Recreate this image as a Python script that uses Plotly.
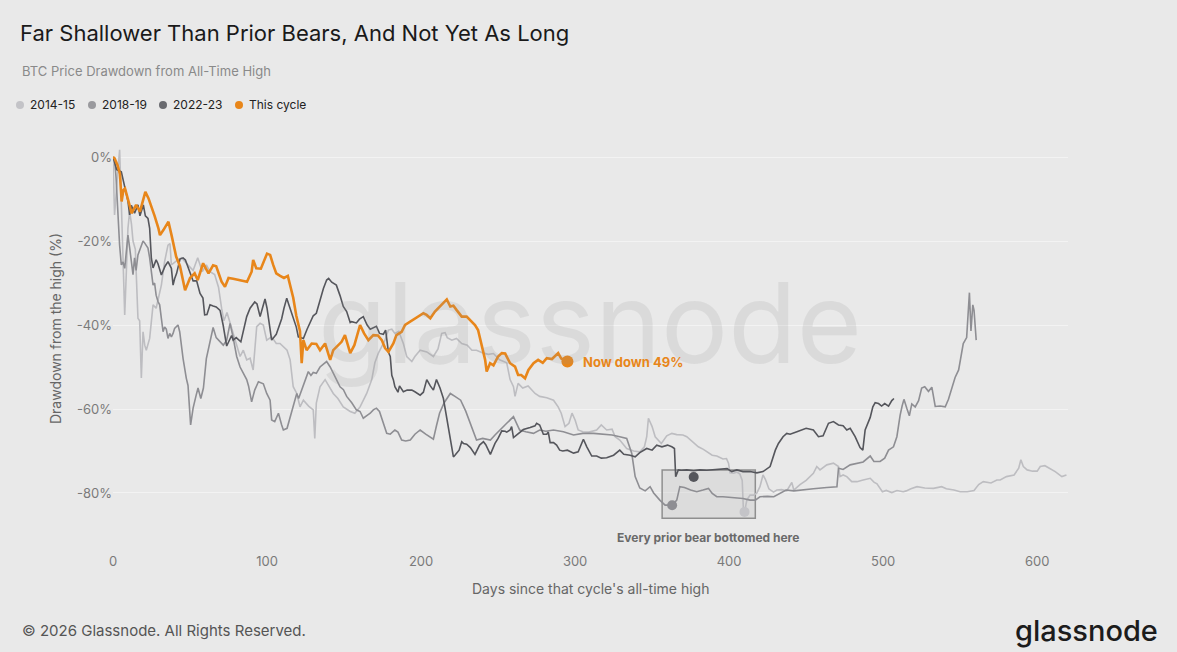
import plotly.graph_objects as go

# ---- data (days since ATH, drawdown %) ----
days_1415 = [0, 1, 3, 4.3, 5.5, 6.5, 7.6, 8.6, 9.7, 10.8, 12, 13, 14.5, 16.2, 17.3, 18.4, 19.5, 20.6,
             21.6, 23.8, 26, 28, 31.4, 33.5, 35.7, 37, 37.9, 41, 44.4, 48.7, 52, 55, 58, 60.6, 63, 66,
             68.5, 70.5, 72, 74, 76, 80.3, 82.5, 84.6, 86.8, 89, 91, 93.3, 95.5, 97.6, 99.8, 103, 106,
             108.4, 110.6, 113, 115, 117, 119.3, 121.4, 123.6, 127, 130, 131, 132, 134.4, 137.7, 140,
             143, 146, 149.5, 154, 157, 160.4, 164.7, 168, 170, 172.3, 174.5, 176.6, 178.8, 181, 183,
             185.5, 188.5, 190.7, 194, 196, 199.4, 203.7, 208, 211, 213.4, 215.6, 217, 220, 223, 226.4,
             230, 233, 236, 240.5, 243.7, 247, 251, 255.6, 257.8, 260, 261, 263, 266, 269.5, 274, 277,
             281.6, 286, 289, 291, 293.5, 296, 298, 300, 302, 305, 309, 314, 317, 320.5, 324, 326, 329,
             333.5, 338, 342, 345, 346.5, 347.6, 350, 352, 354, 356, 359.5, 362.8, 366, 370, 372.5,
             374.6, 378, 380, 383.3, 386.6, 389, 392, 396, 398.3, 399.6, 400.6, 403, 405, 407, 408.5,
             409.3, 410, 411.5, 413.6, 416, 418, 420, 422, 423.6, 425.8, 428.8, 431, 434, 437.4, 440.7,
             442, 446, 450, 454.7, 456.9, 459, 463.4, 467.7, 471, 472, 474, 476.4, 479.6, 483, 487,
             491.6, 494, 496, 499.5, 502, 505.6, 509, 513, 515, 518, 522, 527, 532.7, 538, 541, 546,
             550, 554.6, 559, 562, 565, 570, 573.8, 576, 580, 585, 588, 589.4, 591, 593.5, 597, 600,
             602, 605, 608, 611.7, 616, 619]
dd_1415 = [0, -13.8, -4, 1.7, -12, -25, -37.6, -28, -17, -13, -16, -20, -22, -38.4, -39, -52.6, -41.6,
           -44.8, -46, -43.2, -35.2, -36, -30.5, -24.9, -21, -20.6, -25.7, -24.8, -24, -25.7, -27, -24,
           -27.3, -25.7, -27.3, -28, -31, -36, -39, -37, -39.6, -45.2, -47.5, -46, -48.3, -47.9, -50.7,
           -40.4, -39.6, -40, -43.6, -42.8, -44.4, -44.4, -45.2, -46, -48.3, -54.7, -56.3, -59.5, -57.9,
           -59.3, -60.2, -67, -58.6, -54.7, -53, -54.5, -56.3, -57.5, -59.5, -60.6, -61, -59.5, -56.3,
           -53, -49, -46.7, -45.2, -43.6, -41.2, -41, -42, -41.5, -44.4, -47.5, -48.7, -47.5, -46, -46.4,
           -47.5, -45.7, -42, -41.8, -43, -43.6, -43.2, -44.4, -44.8, -46, -46, -46.7, -47, -46.8, -48.3,
           -49, -53, -54.7, -57, -53.9, -55, -54.5, -56.3, -57, -57.3, -57.9, -59.5, -61, -64.2, -63.4,
           -61, -62.6, -65, -65.4, -65.5, -65, -63.8, -65, -64.8, -66.6, -67.4, -69.4, -70, -70.2, -69,
           -66.6, -62.2, -64.2, -66.6, -67.4, -68.2, -66.4, -65.8, -66.1, -66.2, -66.6, -67.3, -68.2,
           -69, -69.6, -70.4, -71, -71.2, -71.9, -71.8, -72.9, -75.2, -75.3, -75, -75.5, -77, -84.3,
           -84.5, -81.7, -80.5, -80.5, -80, -78.5, -75.7, -76.8, -79, -79.8, -79.3, -79.2, -79.5, -77.5,
           -79.3, -78, -77, -75.3, -73.7, -74.5, -73.3, -72.9, -73.7, -76.1, -75.7, -76.1, -77.3, -77.3,
           -76.9, -76.5, -77.4, -77.8, -79.7, -79.4, -79.9, -79.4, -79.7, -79.5, -79, -78.5, -78.8,
           -78.9, -78.5, -79, -79.3, -79.7, -79.7, -79.4, -78, -77.3, -77.6, -76.9, -76.9, -76.1, -75.7,
           -74.1, -72.1, -73.7, -74.5, -74.8, -74.8, -73.7, -73.5, -74.1, -74.9, -76.1, -75.7]

days_1819 = [0, 1, 2, 3.2, 4.3, 5.4, 6.5, 7.6, 8.6, 9.7, 10.8, 11.9, 13, 14, 15, 16.2, 18.4, 19.5, 20.6,
             22.7, 23.8, 24.9, 26, 27, 28, 29.2, 30.3, 31.4, 32.5, 33.5, 34.6, 35.7, 36.8, 37.9, 39, 40,
             42.2, 43.3, 45.5, 47.6, 48.7, 50.4, 52, 54, 55.2, 57, 58.7, 60.6, 62.8, 65, 67, 69.5, 71.6,
             73.8, 76, 78, 80.3, 82.5, 84.6, 86.8, 88, 90, 92, 94.4, 97.6, 99.8, 102, 103, 105, 107.4,
             109.5, 110.6, 113, 115, 117, 119.3, 120.5, 122.5, 124.7, 126.8, 128.5, 130, 132, 134.4,
             136.6, 138.7, 141, 143, 145, 147.4, 149.6, 151.7, 155, 158, 160.4, 162.5, 165, 167, 169,
             171, 173, 175.5, 177.7, 180, 183, 185, 187.4, 190, 193, 196, 199.4, 203, 208, 210, 212,
             215, 219, 222, 225.7, 229, 232, 236, 240, 245, 248, 251, 255.6, 260, 262, 264, 268, 273,
             277, 281, 286, 292.4, 299, 305, 312, 318, 324, 329, 333.5, 336.8, 339, 342, 345.5, 348.7,
             351, 355, 358.4, 363, 366, 368, 371, 375, 379, 383, 386.6, 389, 392, 396, 400, 405, 409,
             413.6, 417, 420, 425, 429, 433, 437, 442, 446, 454.7, 463.4, 470, 471, 474, 478.6, 483, 487,
             491.6, 494, 498, 501, 503.5, 506.7, 508.9, 510, 511, 512.3, 513.5, 515.5, 517, 518.6, 520.8,
             523, 525, 527, 529.4, 531.6, 533.8, 537, 540.3, 542.4, 544.6, 546.7, 549, 551, 552, 554.2,
             555.4, 556, 557, 558.2, 559, 560.4]
dd_1819 = [0, -0.3, -5, -15.4, -21, -25.7, -25, -26.5, -23, -18.6, -21.6, -25.7, -28, -24, -27, -23.3,
           -21, -20, -20.5, -21.7, -24, -27.3, -30.5, -30, -32.9, -34.4, -35.2, -38.4, -41.6, -40.5, -41,
           -43.2, -42, -42.8, -42, -40.8, -40, -41.6, -48, -52.7, -54.4, -63.8, -59.8, -56.7, -55, -57.5,
           -55, -48, -44, -40.6, -43, -44, -44.8, -43.6, -39.6, -43, -47.5, -50, -51.5, -53, -54.5, -58.3,
           -55.5, -53.5, -54, -56.3, -57.9, -62.6, -63, -61, -63.8, -65, -64.6, -61.8, -59, -56.3, -57.5,
           -55.5, -53, -51.1, -52, -51.3, -51.5, -50, -49.3, -48.7, -50, -51.5, -53, -54.7, -55.4, -57,
           -58.5, -60.2, -60.6, -62.2, -61.5, -61, -60.2, -59.8, -60.6, -63.4, -65.8, -66, -65, -65.5,
           -67.4, -67.6, -67.4, -66, -65, -66, -67.2, -64, -61, -58.5, -56.3, -57, -57.9, -60.5, -63.4,
           -67.4, -67, -67.4, -66.2, -65, -63.4, -61.8, -63.5, -65, -65.4, -65.8, -65, -65.3, -65, -65.4,
           -66.2, -65.8, -65.8, -66, -66.2, -66.6, -67, -70.6, -76.1, -78.8, -79.5, -78.5, -80, -81.7,
           -82.9, -82.9, -81.7, -78.5, -78.7, -79.3, -79.7, -79.3, -78.9, -80.1, -80.9, -80.9, -81,
           -81.3, -81.3, -81.7, -81.7, -80.9, -80.8, -80.9, -80.1, -79.3, -79.5, -79.3, -79, -78.7, -78.5,
           -74.1, -74.4, -73.3, -73, -72.6, -71.2, -72.5, -72.5, -71.7, -69.8, -69, -66.6, -63.6, -61.5,
           -59.3, -57.7, -60, -61.6, -58.8, -59.5, -58, -55, -54.7, -55.8, -54.8, -59.4, -59.3, -59.5,
           -57.7, -54.7, -52.5, -50.7, -46.5, -44.4, -43, -35.6, -32.3, -41.4, -35.2, -36.5, -43.6]

days_2223 = [0, 1, 2.4, 5.4, 6.7, 8.7, 9.7, 10.8, 11.9, 14, 16.2, 17.5, 18.4, 19.7, 21, 22.7, 23.8, 24.9,
             26, 28, 29.2, 31.4, 33.8, 35.7, 37.9, 39, 40, 41.3, 43.5, 45.5, 47, 49, 52, 54.3, 56.5, 58.4,
             59.5, 61, 63, 65, 67, 69.5, 71.5, 73.8, 75, 77, 78, 80, 83, 85, 86.8, 89, 92, 93.5, 95.5, 97,
             98.7, 100, 102, 103, 106, 108, 109.5, 111, 112.8, 114, 115, 117, 119, 120.3, 122, 123.6, 126,
             128, 130, 132, 134.4, 136.6, 138.7, 140, 142, 144, 145, 147.4, 149.5, 151.7, 154, 155, 158,
             160, 162.5, 165, 167, 171, 173, 175.5, 177, 178.8, 180, 181, 182, 183, 185, 186, 188.5, 191,
             194, 196, 199.4, 201.5, 203.7, 206, 208, 210, 212.3, 214.5, 216.7, 217.7, 219, 220, 221, 222,
             224.7, 226.4, 227.5, 229.6, 232, 235, 238, 240.5, 242, 245, 248, 250, 252.4, 254.6, 255.6,
             257.8, 258.8, 260, 263, 266.4, 270.8, 274, 275, 277, 279.4, 281.6, 282.6, 283.8, 286, 288,
             290, 292, 295, 299, 302, 305.4, 307.6, 310.8, 314, 317, 320.5, 325, 329, 331.6, 335.7, 339,
             342, 346.5, 350, 353, 356.4, 360, 362.8, 364.5, 365.3, 367, 369, 372.5, 377, 381, 385.5, 390,
             394, 398.7, 401.7, 405, 409, 413.6, 418, 422, 426.6, 430, 432, 435, 437.4, 439.6, 444, 447,
             450, 454.7, 458, 461, 464.5, 467.7, 471, 474, 476.4, 478.6, 481.8, 485, 486.8, 488.3, 489.8,
             491.6, 493.3, 494.8, 497, 499, 501, 503.5, 505.6, 507]
dd_2223 = [0, -1.5, -3, -3.5, -5.5, -9, -10.5, -13.8, -11.5, -13.4, -11.4, -14, -12.7, -11.4, -14, -14.6,
           -17, -24.1, -26.4, -24.5, -25.4, -28.1, -26, -24.9, -26.5, -30.5, -29, -27.7, -24.3, -24, -24.5,
           -26.5, -29.5, -29.5, -32.5, -33.6, -37.6, -37.5, -35.2, -35.5, -35.7, -36.5, -40, -45, -44,
           -42.5, -43.6, -43, -44, -41, -38, -36, -34.5, -35, -38, -36, -33.8, -36, -41, -43.6, -42.2, -40,
           -38.5, -36, -33.6, -35, -36, -38.5, -40.5, -42.8, -43, -43.2, -41, -39.5, -37.8, -37.2, -34,
           -31.3, -29.3, -28.9, -29.8, -30.2, -30.5, -33, -35.6, -36.8, -39.4, -39.2, -39.5, -38.6, -38,
           -40, -41, -40.3, -42, -42.2, -41.2, -46.5, -47.5, -52, -53, -54.7, -56, -54.5, -55.9, -55.5,
           -55.5, -55.9, -56.7, -56, -53, -54.5, -55.5, -53, -55, -57.5, -62, -64.2, -67.5, -69.5, -71.4,
           -71, -69.8, -67.8, -68.2, -68.4, -69.2, -70.8, -68.6, -67.8, -68.5, -70.8, -68.2, -67, -65.2,
           -65.3, -65.5, -65, -64.2, -66.8, -66, -64.9, -64.4, -64, -63.4, -63.8, -66, -66, -65.5, -68,
           -68, -68.6, -69.8, -70, -69.8, -70.5, -70.2, -67.2, -69, -71.2, -71.2, -71.7, -71.6, -71,
           -69.8, -70.8, -71, -71.4, -70.4, -69.4, -69.8, -68.6, -69, -68.6, -69, -69.4, -76.1, -74.5,
           -74.6, -74.5, -74.7, -74.5, -74.6, -74.5, -74.4, -74.2, -74.9, -74.5, -74.9, -74.9, -75.2,
           -74.9, -73.7, -69.8, -68.2, -66.6, -65.8, -66, -65.4, -65, -64.6, -65, -66.6, -66.4, -63.4,
           -63, -63.8, -64, -65, -64.6, -66.6, -69.2, -69.8, -65, -63.4, -62, -59.5, -58.5, -58.7, -59.3,
           -58.7, -59.3, -58, -57.5]

days_now = [0, 1, 3, 4.5, 5.6, 6.7, 7.8, 9, 11, 12, 15, 17.5, 19, 21, 23, 25, 27, 29.5, 30.5, 32.7, 36,
            38, 41, 43.5, 46.8, 50, 53, 55, 58.5, 62, 65, 67, 70.5, 72.7, 75, 78, 82.5, 87, 90, 91, 93,
            96, 100, 102, 104, 106, 108.5, 111, 113.5, 115.5, 117, 119, 121.4, 122.5, 123.6, 125.7, 129,
            132, 134.4, 137.7, 141, 143, 146, 148.4, 150.6, 154, 156.7, 158, 160.4, 163, 165.8, 169, 172,
            174.5, 176.6, 178.8, 182, 184, 187.4, 189.6, 193, 196, 199.4, 201.5, 203.6, 206, 209, 212,
            215.6, 216.7, 219, 221, 223, 226.4, 229.6, 233, 235, 237, 239.4, 241.6, 242.6, 244.8, 247,
            250, 252.4, 254.6, 257.8, 261, 263, 265, 267.5, 269.7, 273, 276, 279, 281.6, 285, 287, 289,
            291, 295]
dd_now = [0, -0.3, -2, -4, -10.6, -7.9, -7.5, -9, -11.8, -13.4, -11.4, -13, -11, -8.3, -9.8, -11.8, -14,
          -17, -18.6, -17.4, -15.4, -18.6, -23.7, -26, -31.7, -28.8, -27.7, -29.3, -25.3, -27.7, -25.8,
          -26, -29.7, -30.9, -28.8, -29, -29.3, -29.7, -27.3, -24.5, -26.5, -26.6, -23, -23.3, -25.7,
          -27.7, -28.3, -28.8, -28.3, -31.5, -33.5, -37.8, -41.5, -49.1, -43.6, -46, -44.4, -44.5, -46,
          -44.4, -48.3, -46, -44.8, -44, -42.4, -46.7, -44.8, -43.2, -40, -42, -43.6, -42.4, -42.5,
          -43.6, -45.5, -46.4, -44.4, -42.4, -41.6, -40, -39.2, -38.4, -37.6, -37.2, -37.6, -38.4,
          -36.8, -35.6, -34.4, -33.9, -35.6, -35.4, -36.4, -38, -38, -39.2, -40, -41.2, -45.2, -48.3,
          -51.1, -49.1, -49.6, -47.5, -46.7, -46.8, -49.1, -49.9, -51.9, -51.9, -52.7, -50.7, -49.1,
          -48.3, -49, -47.9, -48.1, -47.5, -46.7, -48, -48.7]

# cycle bottoms marked inside the box (2022-23, 2018-19, 2014-15)
bottom_days = [377, 363, 410]
bottom_dd = [-76.2, -82.9, -84.5]

x_ticks = [0, 100, 200, 300, 400, 500, 600]
y_ticks = [0, -20, -40, -60, -80]
y_tick_labels = ["0%", "-20%", "-40%", "-60%", "-80%"]

cycle_names = ["2014-15", "2018-19", "2022-23", "This cycle"]
cycle_colors = ["#bdbdc1", "#8e8e93", "#55565c", "#e8861a"]

FONT = "Inter, Roboto, sans-serif"
BG = "#e9e9e9"

# plot area in pixels, used to place titles/footers in paper coords
W, H = 1177, 652
PL, PR, PT, PB = 113, 1068, 144, 552


def px(x):
    return (x - PL) / (PR - PL)


def py(y):
    return (PB - y) / (PB - PT)


fig = go.Figure()

series = [(days_1415, dd_1415), (days_1819, dd_1819), (days_2223, dd_2223), (days_now, dd_now)]
for (d, v), name, col in zip(series, cycle_names, cycle_colors):
    fig.add_trace(go.Scatter(x=d, y=v, mode="lines", name=name, showlegend=False,
                             line=dict(color=col, width=2.6 if name == "This cycle" else 1.6)))

# bottoms box
fig.add_shape(type="rect", x0=356.5, x1=417, y0=-86, y1=-74.5, xref="x", yref="y",
              fillcolor="rgba(185,185,185,0.28)", line=dict(color="#8f8f8f", width=1.5), layer="between")

fig.add_trace(go.Scatter(x=bottom_days, y=bottom_dd, mode="markers", showlegend=False,
                         marker=dict(size=10, color=[cycle_colors[2], cycle_colors[1], "#c4c4c8"])))

# current point
fig.add_trace(go.Scatter(x=[days_now[-1]], y=[dd_now[-1]], mode="markers", showlegend=False,
                         marker=dict(size=12, color=cycle_colors[3])))

ann = []
# watermark
ann.append(dict(text="glassnode", x=px(590), y=py(322), xref="paper", yref="paper", showarrow=False,
                xanchor="center", yanchor="middle",
                font=dict(family=FONT, size=112, color="rgba(150,150,150,0.17)")))
# subtitle
ann.append(dict(text="BTC Price Drawdown from All-Time High", x=px(20), y=py(71), xref="paper",
                yref="paper", showarrow=False, xanchor="left", yanchor="middle",
                font=dict(family=FONT, size=13, color="#8a8a8a")))
# legend (dots + labels)
leg_dot_x = [20, 92, 163, 239]
leg_txt_x = [28, 100, 171, 247]
leg_cols = ["#c3c3c7", "#9a9a9e", "#6a6b70", "#e8861a"]
for dx, tx, name, col in zip(leg_dot_x, leg_txt_x, cycle_names, leg_cols):
    fig.add_shape(type="circle", xref="paper", yref="paper", x0=px(dx - 4), x1=px(dx + 4),
                  y0=py(105 + 4), y1=py(105 - 4), fillcolor=col, line=dict(width=0))
    ann.append(dict(text=name, x=px(tx), y=py(105), xref="paper", yref="paper", showarrow=False,
                    xanchor="left", yanchor="middle", font=dict(family=FONT, size=12, color="#222222")))
# now label
ann.append(dict(text="<b>Now down 49%</b>", x=days_now[-1] + 9, y=dd_now[-1], xref="x", yref="y",
                showarrow=False, xanchor="left", yanchor="middle",
                font=dict(family=FONT, size=13, color="#e8861a")))
# box label
ann.append(dict(text="<b>Every prior bear bottomed here</b>", x=386.5, y=-90.6, xref="x", yref="y",
                showarrow=False, xanchor="center", yanchor="middle",
                font=dict(family=FONT, size=12, color="#6a6a6a")))
# axis titles
ann.append(dict(text="Days since that cycle's all-time high", x=px(590), y=py(588), xref="paper",
                yref="paper", showarrow=False, xanchor="center", yanchor="middle",
                font=dict(family=FONT, size=14, color="#666666")))
ann.append(dict(text="Drawdown from the high (%)", x=px(55), y=py(329), xref="paper", yref="paper",
                showarrow=False, xanchor="center", yanchor="middle", textangle=-90,
                font=dict(family=FONT, size=14, color="#666666")))
# footer
ann.append(dict(text="© 2026 Glassnode. All Rights Reserved.", x=px(20), y=py(630), xref="paper",
                yref="paper", showarrow=False, xanchor="left", yanchor="middle",
                font=dict(family=FONT, size=15, color="#555555")))
ann.append(dict(text="glassnode", x=px(1160), y=py(630), xref="paper", yref="paper", showarrow=False,
                xanchor="right", yanchor="middle",
                font=dict(family=FONT, size=29, color="#1c1c1c", weight=500)))

fig.update_layout(
    width=W, height=H,
    margin=dict(l=PL, r=W - PR, t=PT, b=H - PB),
    paper_bgcolor=BG, plot_bgcolor=BG,
    font=dict(family=FONT),
    title=dict(text="Far Shallower Than Prior Bears, And Not Yet As Long", x=20 / W, xref="container",
               xanchor="left", y=1 - 33 / H, yref="container", yanchor="middle",
               font=dict(family=FONT, size=22, color="#1a1a1a")),
    annotations=ann,
    showlegend=False,
    xaxis=dict(range=[0, 620], tickvals=x_ticks, showgrid=False, zeroline=False, showline=False,
               ticks="", tickfont=dict(size=13, color="#7a7a7a")),
    yaxis=dict(range=[-94.05, 3.1], tickvals=y_ticks, ticktext=y_tick_labels, showgrid=True,
               gridcolor="#f3f3f3", gridwidth=1, zeroline=False, showline=False, ticks="",
               tickfont=dict(size=13, color="#7a7a7a")),
)

fig.write_html("out.html", config={"displayModeBar": False},
               post_script="document.body.style.margin='0';document.body.style.overflow='hidden';")
